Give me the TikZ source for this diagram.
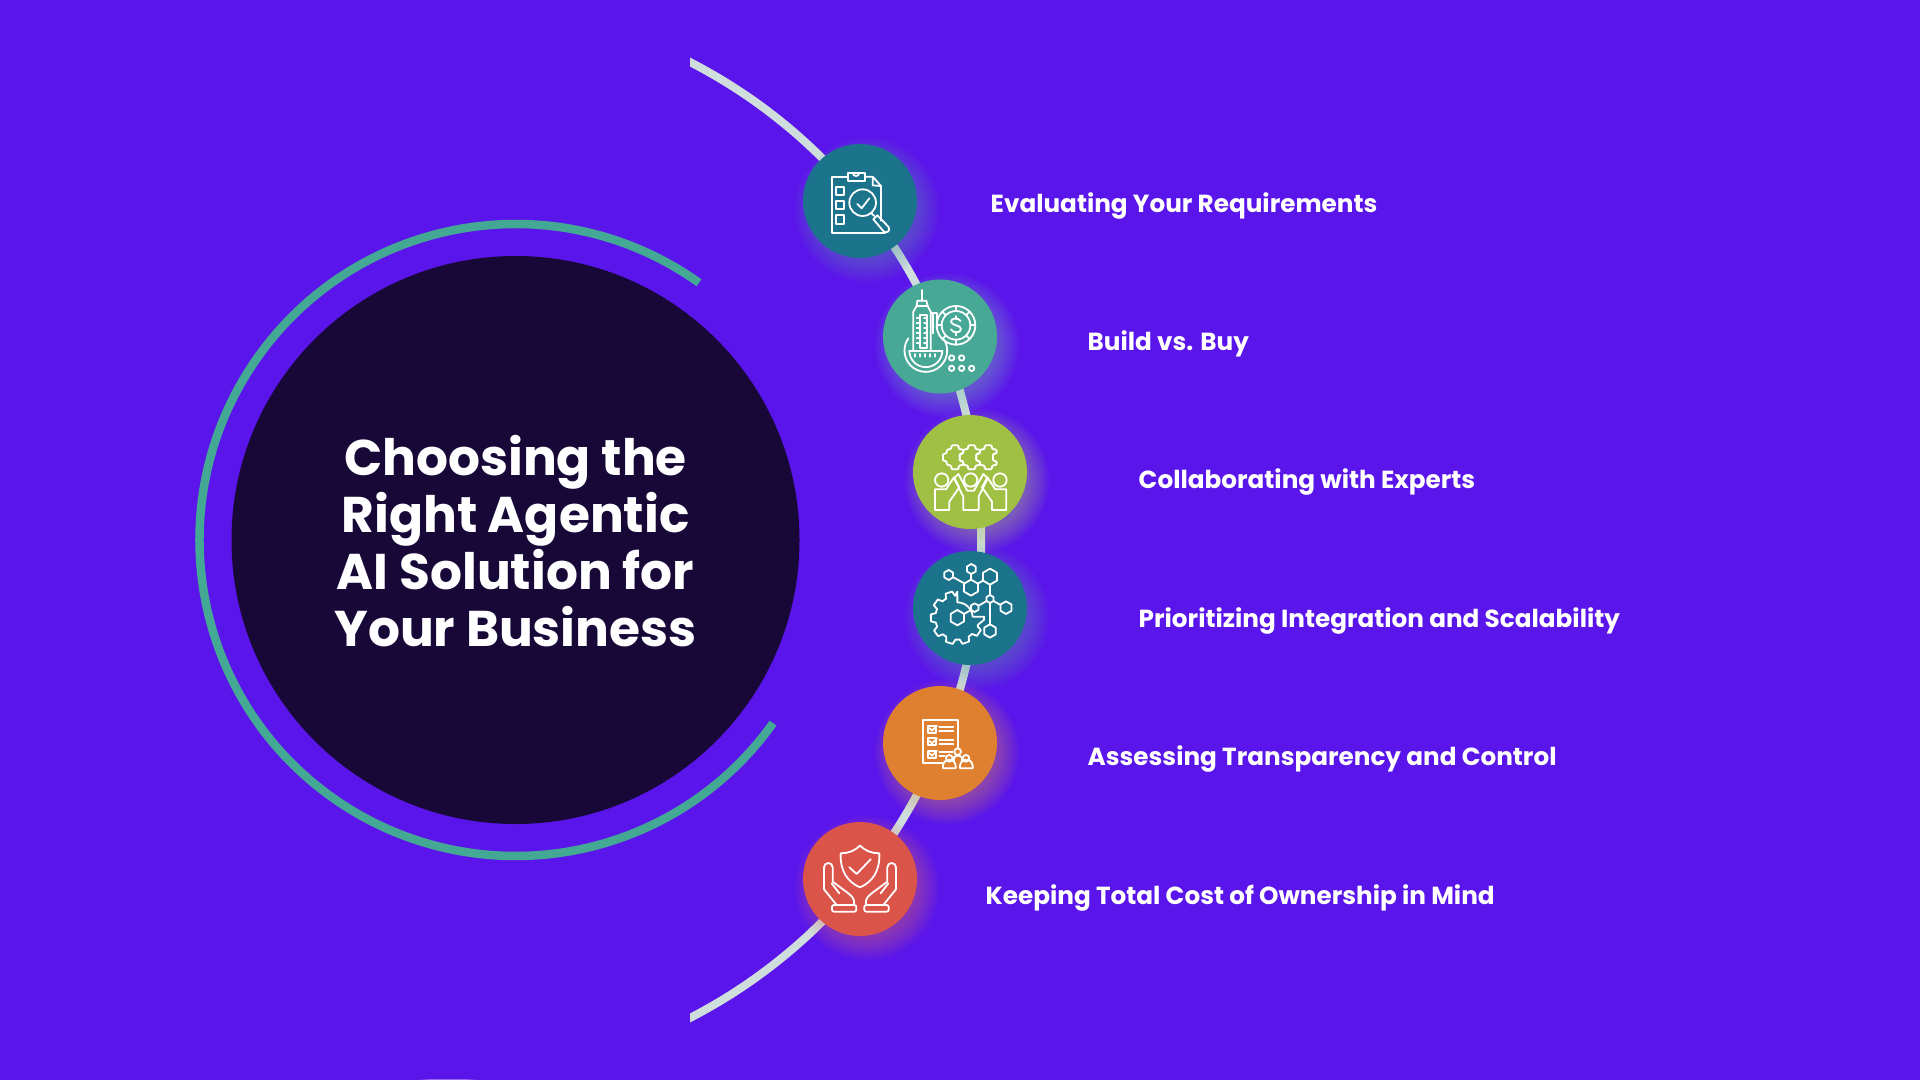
\documentclass[tikz,border=0pt]{standalone}
\usepackage{fontspec}
\setmainfont{Poppins}
\definecolor{bgp}{HTML}{5A16EA}
\definecolor{darkc}{HTML}{170838}
\definecolor{ringc}{HTML}{43A995}
\definecolor{arcc}{HTML}{CFDDDD}
\definecolor{cteal}{HTML}{1B748C}
\definecolor{cgreen}{HTML}{48A896}
\definecolor{clime}{HTML}{A0C044}
\definecolor{corange}{HTML}{DE8030}
\definecolor{cred}{HTML}{DA5449}
\newcommand\hexa[3]{\draw[shift={(#1,#2)}] (90:#3)--(150:#3)--(210:#3)--(270:#3)--(330:#3)--(30:#3)--cycle;}
\newcommand\puz[2]{\draw[shift={(#1,#2)},rounded corners=1.5pt] (-25,-24)--(-10,-24)--(-12,-36)--(12,-36)--(10,-24)--(25,-24)--(25,-10)--(14,-12)--(14,12)--(25,10)--(25,24)--(10,24)--(12,36)--(-12,36)--(-10,24)--(-25,24)--(-25,10)--(-36,12)--(-36,-12)--(-25,-10)--cycle;}
\newcommand\glow[3]{\foreach \gr in {50,52,...,72}{\fill[#3,opacity=0.04] (#1+7,#2+9) circle (\gr);}}
\tikzset{
  dot/.style={circle,minimum size=114pt,inner sep=0pt,draw=none},
  lab/.style={anchor=west,text=white,font=\bfseries\fontsize{24.7}{30}\selectfont,inner sep=0pt},
  ico/.style={draw=white,line width=1.8pt,line join=round,line cap=round}
}
\begin{document}
\begin{tikzpicture}[x=1pt,y=1pt,yscale=-1]
\path[use as bounding box,fill=bgp] (0,0) rectangle (1920,1080);
% sliver at the bottom edge
\fill[white,opacity=0.35] (418,1080) -- (478,1080) -- (465,1079) -- (431,1079) -- cycle;
% title disc and ring
\node[circle,fill=darkc,minimum size=568pt,inner sep=0pt] (disc) at (515.5,540) {};
\coordinate (ringc) at (515.5,540);
\draw[ringc,line width=8.5pt] ([shift={(-54.5:316)}]ringc) arc[start angle=-54.5,end angle=-324.6,radius=316];
\node[text=white,align=center,font=\bfseries\fontsize{50.2}{57}\selectfont,inner sep=0pt] (title) at (515.5,541) {Choosing the\\Right Agentic\\AI Solution for\\Your Business};
% big arc
\coordinate (arcc0) at (443,540);
\begin{scope}
\clip (690,0) rectangle (1100,1080);
\draw[arcc,line width=8pt] ([shift={(-65:538)}]arcc0) arc[start angle=-65,end angle=65,radius=538];
\end{scope}
% glows
\glow{860}{201}{cteal!70!white}
\glow{940}{336.5}{cgreen!70!white}
\glow{970}{472}{clime!70!white}
\glow{970}{608}{cteal!70!white}
\glow{940}{743}{corange!80!white}
\glow{860}{879}{cred!80!white}
% discs
\node[dot,fill=cteal] (c1) at (860,201) {};
\node[dot,fill=cgreen] (c2) at (940,336.5) {};
\node[dot,fill=clime] (c3) at (970,472) {};
\node[dot,fill=cteal] (c4) at (970,608) {};
\node[dot,fill=corange] (c5) at (940,743) {};
\node[dot,fill=cred] (c6) at (860,879) {};
% labels
\node[lab] (l1) at (990.5,206) {Evaluating Your Requirements};
\node[lab] (l2) at (1087.5,344) {Build vs. Buy};
\node[lab] (l3) at (1138.5,482) {Collaborating with Experts};
\node[lab] (l4) at (1138.5,621) {Prioritizing Integration and Scalability};
\node[lab] (l5) at (1087.5,758.5) {Assessing Transparency and Control};
\node[lab] (l6) at (985.5,898) {Keeping Total Cost of Ownership in Mind};
% icon 1
\begin{scope}[shift={(780,130)},scale=0.3333,ico]
\draw (203,140)--(155,140)--(155,310)--(315,310);
\draw (255,140)--(278,140)--(303,168)--(303,272);
\draw (278,142)--(278,166)--(303,168);
\draw (203,128) rectangle (255,152);
\draw (218,128) arc[start angle=180,end angle=0,radius=10];
\draw (167,170) rectangle (193,194);
\draw (167,212) rectangle (193,237);
\draw (167,256) rectangle (193,281);
\draw (248,218) circle (40);
\draw (232,222)--(245,235)--(268,205);
\draw (274,250)--(283,258);
\draw (280,268)--(292,256)--(325,290) arc[start angle=-45,end angle=135,radius=10]--cycle;
\end{scope}
% icon 2
\begin{scope}[shift={(780,130)},scale=0.3333,ico]
\draw (425,480)--(425,512);
\draw (410,528)--(412,512)--(439,512)--(443,528);
\draw (400,660)--(400,545)--(410,528)--(443,528)--(452,545)--(452,660);
\draw (452,548)--(470,548)--(470,590);
\draw (460,548)--(460,610);
\draw (420,555) rectangle (440,655);
\foreach \yy in {565,580,...,650}{\draw (410,\yy)--(418,\yy);\draw (432,\yy)--(440,\yy);}
\draw (528,586) circle (58);
\draw (528,586) circle (43);
\foreach \aa in {0,45,...,315}{\draw ([shift={(\aa:43)}]528,586)--([shift={(\aa:58)}]528,586);}
\draw (542,573) .. controls (535,562) and (512,564) .. (513,575) .. controls (514,588) and (544,584) .. (543,598) .. controls (542,610) and (518,610) .. (513,598);
\draw (528,558)--(528,566);\draw (528,606)--(528,616);
\draw (385,625) arc[start angle=215,end angle=-30,radius=64];
\draw (388,662)--(487,662);
\draw (388,662) arc[start angle=180,end angle=0,radius=49.5];
\foreach \xx in {405,420,...,470}{\draw (\xx,672)--(\xx,680);}
\foreach \p in {{515,684},{545,684},{515,715},{545,715},{575,715}}{\draw (\p) circle (8);}
\end{scope}
% icon 3
\begin{scope}[shift={(880,400)},scale=0.3333,ico]
\puz{225}{172}\puz{275}{172}\puz{325}{172}
\draw (185,240) circle (20);
\draw (272,240) circle (20);
\draw (360,240) circle (20);
\draw (165,330)--(165,268)--(198,268)--(222,232)--(238,262)--(208,305)--(208,330)--cycle;
\draw (379,330)--(379,268)--(346,268)--(322,232)--(306,262)--(336,305)--(336,330)--cycle;
\draw (250,330)--(250,290)--(222,235)--(235,222)--(262,272)--(282,272)--(310,222)--(323,235)--(296,290)--(296,330)--cycle;
\end{scope}
% icon 4
\begin{scope}[shift={(880,400)},scale=0.3333,ico]
\hexa{206}{525}{15}\hexa{274}{507}{15}\hexa{273}{563}{24}\hexa{330}{530}{24}
\hexa{330}{597}{12}\hexa{378}{623}{19}\hexa{284}{623}{13}\hexa{330}{693}{20}\hexa{232}{653}{23}
\draw (220,532)--(253,550);
\draw (274,522)--(274,540);
\draw (293,551)--(309,542);
\draw (330,554)--(330,585);
\draw (340,603)--(362,615);
\draw (320,603)--(296,617);
\draw (330,609)--(330,673);
\draw (273,630)--(252,642);
\begin{scope}[shift={(232,653)}]
\draw (80,-3)--(46,-3) arc[start angle=-4,end angle=-90,radius=46]--(0,-78)
  \foreach \a [evaluate=\a as \p using {\a+30},evaluate=\a as \q using {\a+25},evaluate=\a as \r using {\a+10},evaluate=\a as \s using {\a+5}] in {234,198,162,126,90,54,18}{
   --(\p:66)--(\q:80)--(\r:80)--(\s:66)--(\a:66)}
  --(5:80)--cycle;
\end{scope}
\end{scope}
% icon 5
\begin{scope}[shift={(780,680)},scale=0.3333,ico]
\draw (487,248)--(430,248)--(430,120)--(535,120)--(535,205);
\draw (443,137) rectangle (468,158);
\draw (443,175) rectangle (468,196);
\draw (443,212) rectangle (468,233);
\foreach \yy in {145,183,220}{\draw (449,\yy)--(456,\yy+7)--(471,\yy-8);}
\draw (478,142)--(520,142);\draw (478,154)--(520,154);
\draw (478,180)--(520,180);\draw (478,192)--(520,192);
\draw (478,215)--(518,215);\draw (478,228)--(495,228);
\draw (533,215) circle (10);
\draw (508,235) circle (10);
\draw (558,235) circle (10);
\draw (522,245)--(522,232)--(530,227)--(537,227)--(546,232)--(546,245);
\draw (489,265)--(489,258) arc[start angle=180,end angle=360,radius=19]--(527,265)--cycle;
\draw (540,265)--(540,258) arc[start angle=180,end angle=360,radius=19]--(578,265)--cycle;
\end{scope}
% icon 6
\begin{scope}[shift={(780,680)},scale=0.3333,ico]
\draw (240,497) .. controls (225,512) and (205,520) .. (182,520) .. controls (180,570) and (200,605) .. (240,622) .. controls (280,605) and (300,570) .. (298,520) .. controls (275,520) and (255,512) .. (240,497)--cycle;
\draw (208,562)--(230,582)--(272,538);
\draw (132,562) arc[start angle=180,end angle=360,radius=13]--(158,605)--(205,640)
  .. controls (218,650) and (225,660) .. (222,675);
\draw (132,562)--(132,628)--(170,675);
\draw (155,610)--(178,640);
\draw[rounded corners=2pt] (156,675) rectangle (229,695);
\draw (348,562) arc[start angle=360,end angle=180,radius=13]--(322,605)--(275,640)
  .. controls (262,650) and (255,660) .. (258,675);
\draw (348,562)--(348,628)--(310,675);
\draw (325,610)--(302,640);
\draw[rounded corners=2pt] (253,675) rectangle (326,695);
\end{scope}
\end{tikzpicture}
\end{document}
